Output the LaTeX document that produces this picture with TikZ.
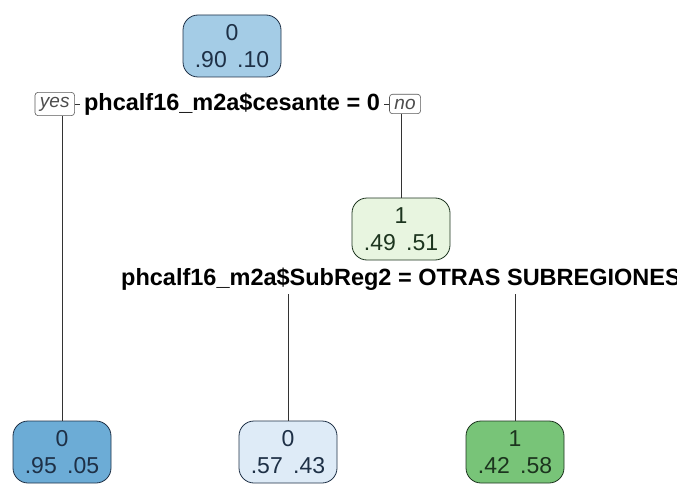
\documentclass[tikz,border=0pt]{standalone}
\usepackage{fontspec}
\setmainfont{Liberation Sans}
\usetikzlibrary{positioning}

% Colours of the boxes
\definecolor{rootblue}{RGB}{164,204,230}
\definecolor{deepblue}{RGB}{108,172,214}
\definecolor{paleblue}{RGB}{222,235,247}
\definecolor{palegreen}{RGB}{232,245,224}
\definecolor{midgreen}{RGB}{120,196,120}
\definecolor{bluetext}{RGB}{30,48,70}
\definecolor{greentext}{RGB}{28,52,30}

\tikzset{
  treenode/.style={draw, rounded corners=15pt, minimum width=98pt, minimum height=62pt,
    align=center, inner sep=2pt, line width=0.8pt, font=\fontsize{23}{27}\selectfont},
  bluenode/.style={treenode, draw=bluetext, text=bluetext},
  greennode/.style={treenode, draw=greentext, text=greentext},
  splitlabel/.style={font=\fontsize{23.5}{26}\selectfont\bfseries, inner sep=4pt},
  yesno/.style={draw=black!65, fill=white, rounded corners=3pt, line width=0.6pt,
    font=\fontsize{19}{21}\selectfont\itshape, text=black!70, inner xsep=5pt, inner ysep=4.5pt},
  branch/.style={line width=0.8pt, draw=black!80}
}

\begin{document}
\begin{tikzpicture}[x=1pt, y=-1pt]
  \useasboundingbox (0,0) rectangle (677,484);

  % Draw the root and its split
  \node[bluenode, fill=rootblue] (root) at (232,46) {0\\.90\hspace{0.45em}.10};
  \node[splitlabel] (split1) at (232,104) {phcalf16\_m2a\$cesante = 0};
  \node[yesno, left=5pt of split1] (yes) {yes};
  \node[yesno, right=5pt of split1] (no) {no};

  % Draw the inner node and its split
  \node[greennode, fill=palegreen] (inner) at (401,229) {1\\.49\hspace{0.45em}.51};
  \node[splitlabel] (split2) at (401,279) {phcalf16\_m2a\$SubReg2 = OTRAS SUBREGIONES};

  % Draw the three leaves
  \node[bluenode, fill=deepblue] (leafA) at (62,452) {0\\.95\hspace{0.45em}.05};
  \node[bluenode, fill=paleblue] (leafB) at (288,452) {0\\.57\hspace{0.45em}.43};
  \node[greennode, fill=midgreen] (leafC) at (515,452) {1\\.42\hspace{0.45em}.58};

  % Draw the branches
  \draw[branch] (yes.east) -- (split1.west);
  \draw[branch] (split1.east) -- (no.west);
  \draw[branch] (yes.south -| leafA.north) -- (leafA.north);
  \draw[branch] (no.south -| inner.north) -- (inner.north);
  \draw[branch] (split2.south -| leafB.north) -- (leafB.north);
  \draw[branch] (split2.south -| leafC.north) -- (leafC.north);

\end{tikzpicture}
\end{document}
